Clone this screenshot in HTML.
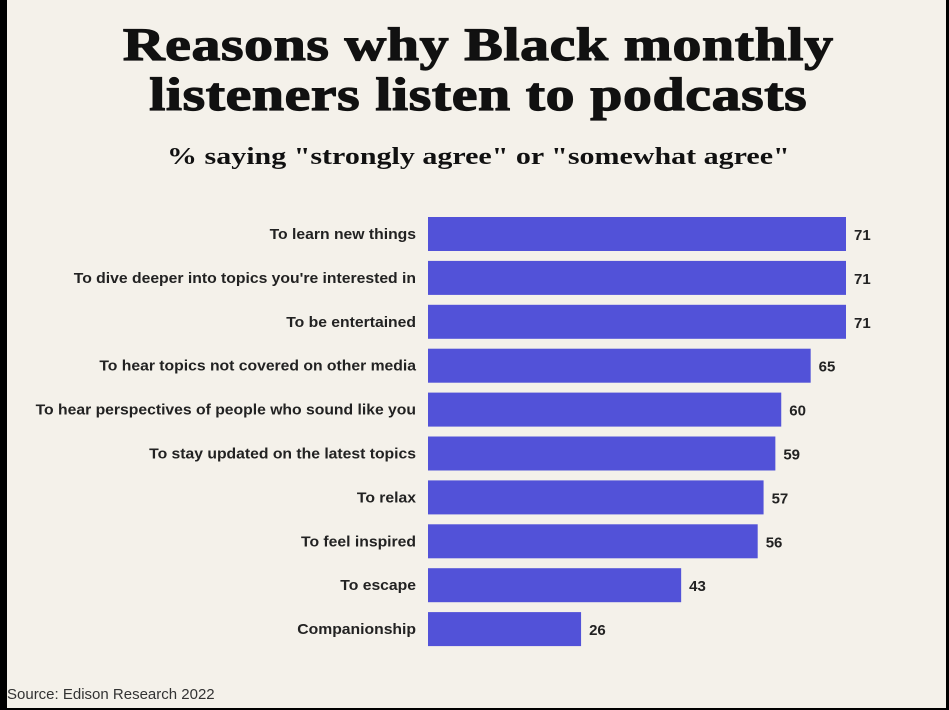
<!DOCTYPE html>
<html><head><meta charset="utf-8"><style>
body{margin:0;width:949px;height:710px;background:#000;overflow:hidden;font-family:"Liberation Sans",sans-serif}
#card{position:absolute;left:7px;top:0;width:939px;height:708px;background:#f4f1ea}
h1{position:absolute;left:0;top:20px;width:939px;margin:0;text-align:center;font:900 47px/50px "Liberation Serif",serif;color:#111;letter-spacing:0.5px;-webkit-text-stroke:1.2px #111;transform:scaleX(1.23);transform-origin:462px 0}
#sub{position:absolute;left:0;top:144px;width:939px;text-align:center;font:bold 24px "Liberation Serif",serif;color:#111;transform:scaleX(1.25);transform-origin:462px 0}
#src{position:absolute;left:0;top:686px;font-size:15px;color:#333}
</style></head><body>
<div id="card">
<h1>Reasons why Black monthly<br>listeners listen to podcasts</h1>
<div id="sub">% saying "strongly agree" or "somewhat agree"</div>
<svg id="chart" width="939" height="708" style="position:absolute;left:0;top:0"></svg>
<div id="src">Source: Edison Research 2022</div>
</div>
<script>
const categories=["To learn new things","To dive deeper into topics you're interested in","To be entertained","To hear topics not covered on other media","To hear perspectives of people who sound like you","To stay updated on the latest topics","To relax","To feel inspired","To escape","Companionship"];
const values=[71,71,71,65,60,59,57,56,43,26];
const svg=document.getElementById('chart');
const NS='http://www.w3.org/2000/svg';
const x0=421, scale=418/71;
const xs=v=>x0+v*scale;
const yc=i=>234+i*43.9;
categories.forEach((c,i)=>{
  const r=document.createElementNS(NS,'rect');
  r.setAttribute('x',x0);r.setAttribute('y',yc(i)-17);
  r.setAttribute('width',xs(values[i])-x0);r.setAttribute('height',34);
  r.setAttribute('fill','#5252d8');
  
  
  svg.appendChild(r);
  const t=document.createElementNS(NS,'text');
  t.setAttribute('x',409);t.setAttribute('y',yc(i)+5);
  t.setAttribute('text-anchor','end');t.setAttribute('font-size','14.5');
  t.setAttribute('font-weight','bold');t.setAttribute('fill','#222');
  t.setAttribute('textLength',String(Math.round(c.length*0)||''));
  t.removeAttribute('textLength');
  t.setAttribute('transform','translate(409,0) scale(1.085,1) translate(-409,0)');
  t.textContent=c;
  
  
  svg.appendChild(t);
  const v=document.createElementNS(NS,'text');
  v.setAttribute('x',xs(values[i])+8);v.setAttribute('y',yc(i)+6);
  v.setAttribute('font-size','15');v.setAttribute('font-weight','bold');v.setAttribute('fill','#222');
  v.textContent=values[i];
  
  
  svg.appendChild(v);
});
</script>
</body></html>
